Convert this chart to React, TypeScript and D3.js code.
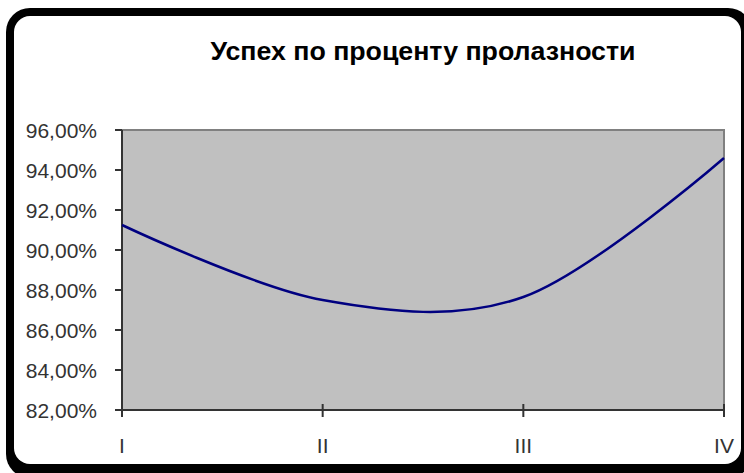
import React from 'react';
import * as d3 from 'd3';

const categories = ['I', 'II', 'III', 'IV'];
const successRate = [0.9125, 0.875, 0.8765, 0.946];
const yTicks = [0.82, 0.84, 0.86, 0.88, 0.9, 0.92, 0.94, 0.96];
const title = 'Успех по проценту пролазности';

const W = 744;
const H = 473;
const plot = { left: 122, right: 724, top: 130, bottom: 410 };

const fmt = (v: number) => (v * 100).toFixed(2).replace('.', ',') + '%';

const App: React.FC = () => {
  const x = d3.scalePoint<string>().domain(categories).range([plot.left, plot.right]);
  const y = d3.scaleLinear().domain([0.82, 0.96]).range([plot.bottom, plot.top]);

  const line = d3
    .line<number>()
    .x((_, i) => x(categories[i]) as number)
    .y(d => y(d))
    .curve(d3.curveCardinal.tension(0));

  const font = '"Liberation Sans", Arial, sans-serif';

  return (
    <svg
      width={W}
      height={H}
      style={{ position: 'absolute', left: 0, top: 0, background: '#fff' }}
    >
      {/* frame with shadow */}
      <rect x={6} y={8} width={746} height={470} rx={24} fill="#000" />
      <rect x={14} y={16} width={727} height={448} rx={16} fill="#fff" />

      <text
        x={423}
        y={60}
        textAnchor="middle"
        fontFamily={font}
        fontWeight="bold"
        fontSize={25}
        textLength={425}
        lengthAdjust="spacingAndGlyphs"
        fill="#000"
      >
        {title}
      </text>

      {/* plot area */}
      <rect
        x={plot.left}
        y={plot.top}
        width={plot.right - plot.left}
        height={plot.bottom - plot.top}
        fill="#C0C0C0"
        stroke="#808080"
        strokeWidth={2}
      />

      {/* y axis */}
      <line x1={plot.left} x2={plot.left} y1={plot.top} y2={plot.bottom} stroke="#333" strokeWidth={2} />
      {yTicks.map(t => (
        <g key={t}>
          <line x1={plot.left - 7} x2={plot.left} y1={y(t)} y2={y(t)} stroke="#333" strokeWidth={2} />
          <text
            x={97}
            y={y(t)}
            dy="0.36em"
            textAnchor="end"
            fontFamily={font}
            fontSize={21}
            fill="#333"
          >
            {fmt(t)}
          </text>
        </g>
      ))}

      {/* x axis */}
      <line x1={plot.left} x2={plot.right} y1={plot.bottom} y2={plot.bottom} stroke="#333" strokeWidth={2} />
      {categories.map(c => (
        <g key={c}>
          <line
            x1={x(c)}
            x2={x(c)}
            y1={plot.bottom - 6}
            y2={plot.bottom + 7}
            stroke="#333"
            strokeWidth={2}
          />
          <text
            x={x(c)}
            y={453}
            textAnchor="middle"
            fontFamily={font}
            fontSize={21}
            fill="#333"
          >
            {c}
          </text>
        </g>
      ))}

      <path d={line(successRate) || ''} fill="none" stroke="#000080" strokeWidth={2.5} />
    </svg>
  );
};

export default App;
